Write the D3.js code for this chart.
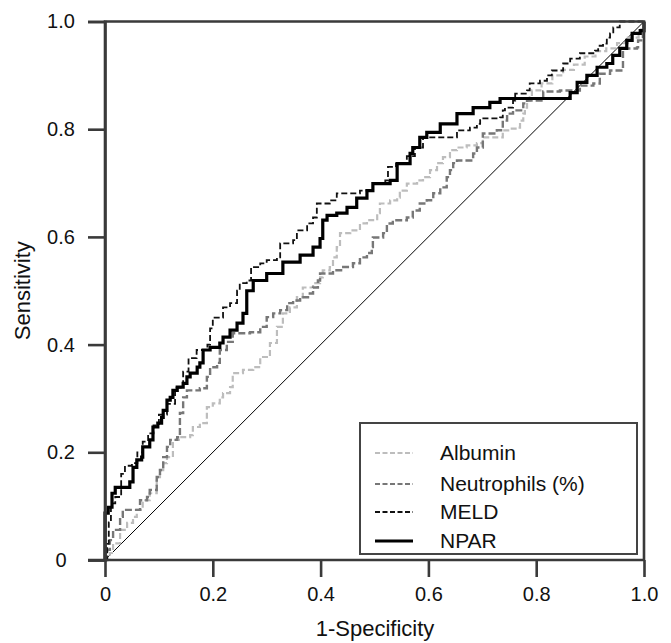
<!DOCTYPE html>
<html><head><meta charset="utf-8">
<script src="https://cdn.jsdelivr.net/npm/d3@7"></script>
<style>body{margin:0;background:#fff}svg{display:block}text{font-family:"Liberation Sans",Arial,sans-serif;fill:#111}</style>
</head><body>
<svg id="c" width="671" height="643"></svg>
<script>
const xTicks = [0, 0.2, 0.4, 0.6, 0.8, 1.0];
const yTicks = [0, 0.2, 0.4, 0.6, 0.8, 1.0];
const tickLabels = ["0", "0.2", "0.4", "0.6", "0.8", "1.0"];
const seriesNames = ["Albumin", "Neutrophils (%)", "MELD", "NPAR"];

const albumin = [[0,0],[0.009,0.013],[0.015,0.031],[0.028,0.056],[0.041,0.069],[0.052,0.08],[0.059,0.093],[0.07,0.111],[0.083,0.124],[0.096,0.154],[0.102,0.167],[0.108,0.18],[0.115,0.191],[0.126,0.223],[0.139,0.228],[0.158,0.232],[0.163,0.247],[0.176,0.254],[0.189,0.284],[0.2,0.291],[0.213,0.302],[0.219,0.31],[0.232,0.321],[0.237,0.347],[0.256,0.353],[0.275,0.358],[0.288,0.377],[0.306,0.403],[0.319,0.433],[0.33,0.458],[0.343,0.469],[0.356,0.488],[0.367,0.506],[0.386,0.514],[0.399,0.525],[0.404,0.538],[0.417,0.544],[0.423,0.562],[0.43,0.581],[0.436,0.607],[0.455,0.612],[0.473,0.625],[0.486,0.631],[0.505,0.644],[0.51,0.662],[0.529,0.668],[0.542,0.673],[0.547,0.686],[0.56,0.699],[0.579,0.705],[0.59,0.711],[0.603,0.724],[0.616,0.737],[0.627,0.748],[0.64,0.761],[0.653,0.766],[0.671,0.77],[0.69,0.774],[0.701,0.785],[0.738,0.798],[0.751,0.801],[0.764,0.803],[0.77,0.816],[0.776,0.829],[0.779,0.84],[0.783,0.853],[0.788,0.859],[0.792,0.872],[0.81,0.885],[0.83,0.9],[0.85,0.91],[0.87,0.92],[0.89,0.935],[0.91,0.945],[0.93,0.95],[0.95,0.96],[0.97,0.97],[0.99,0.975],[0.995,0.99],[1,1]];

const neutrophils = [[0,0],[0.004,0.019],[0.009,0.037],[0.015,0.056],[0.028,0.08],[0.033,0.093],[0.052,0.093],[0.065,0.111],[0.078,0.117],[0.083,0.13],[0.096,0.154],[0.102,0.167],[0.108,0.191],[0.115,0.21],[0.121,0.223],[0.134,0.228],[0.139,0.247],[0.139,0.273],[0.145,0.302],[0.152,0.315],[0.176,0.319],[0.189,0.34],[0.195,0.358],[0.208,0.366],[0.213,0.39],[0.226,0.405],[0.237,0.421],[0.269,0.423],[0.288,0.433],[0.3,0.451],[0.312,0.458],[0.325,0.464],[0.338,0.477],[0.349,0.482],[0.362,0.488],[0.38,0.495],[0.386,0.506],[0.395,0.519],[0.399,0.532],[0.423,0.538],[0.442,0.544],[0.46,0.551],[0.473,0.562],[0.486,0.57],[0.495,0.581],[0.497,0.599],[0.516,0.607],[0.523,0.625],[0.534,0.631],[0.56,0.636],[0.571,0.649],[0.584,0.662],[0.597,0.668],[0.609,0.681],[0.622,0.692],[0.634,0.711],[0.64,0.724],[0.646,0.737],[0.653,0.742],[0.683,0.755],[0.69,0.766],[0.701,0.779],[0.701,0.792],[0.727,0.798],[0.738,0.816],[0.746,0.829],[0.757,0.835],[0.77,0.835],[0.776,0.848],[0.783,0.853],[0.813,0.87],[0.844,0.872],[0.881,0.881],[0.906,0.885],[0.918,0.903],[0.937,0.909],[0.961,0.95],[0.987,0.952],[0.989,0.965],[0.998,0.98],[1,1]];

const meld = [[0,0],[0.004,0.03],[0.007,0.07],[0.011,0.105],[0.019,0.117],[0.028,0.117],[0.03,0.16],[0.037,0.175],[0.05,0.18],[0.06,0.2],[0.07,0.22],[0.08,0.235],[0.09,0.25],[0.1,0.27],[0.115,0.29],[0.13,0.32],[0.145,0.35],[0.155,0.375],[0.17,0.39],[0.19,0.4],[0.195,0.43],[0.2,0.45],[0.219,0.469],[0.232,0.477],[0.245,0.5],[0.25,0.514],[0.263,0.519],[0.271,0.544],[0.288,0.551],[0.3,0.557],[0.319,0.562],[0.325,0.588],[0.349,0.594],[0.356,0.612],[0.375,0.625],[0.386,0.636],[0.393,0.662],[0.417,0.668],[0.43,0.681],[0.473,0.686],[0.497,0.699],[0.52,0.705],[0.525,0.73],[0.54,0.736],[0.56,0.75],[0.575,0.766],[0.59,0.785],[0.645,0.785],[0.653,0.798],[0.677,0.803],[0.69,0.81],[0.696,0.82],[0.733,0.822],[0.738,0.835],[0.742,0.84],[0.757,0.853],[0.761,0.866],[0.783,0.872],[0.788,0.885],[0.807,0.89],[0.82,0.9],[0.829,0.909],[0.85,0.922],[0.863,0.931],[0.881,0.941],[0.909,0.946],[0.915,0.955],[0.924,0.959],[0.931,0.97],[0.937,0.978],[0.943,0.989],[0.955,1],[1,1]];

const npar = [[0,0],[0,0.087],[0.006,0.098],[0.013,0.124],[0.019,0.135],[0.028,0.135],[0.046,0.145],[0.052,0.172],[0.059,0.186],[0.068,0.191],[0.07,0.21],[0.083,0.223],[0.089,0.247],[0.098,0.254],[0.105,0.265],[0.108,0.278],[0.115,0.297],[0.121,0.302],[0.126,0.315],[0.134,0.321],[0.145,0.328],[0.152,0.34],[0.158,0.347],[0.171,0.358],[0.176,0.366],[0.182,0.39],[0.195,0.395],[0.213,0.403],[0.219,0.414],[0.232,0.427],[0.245,0.44],[0.256,0.458],[0.263,0.5],[0.275,0.519],[0.3,0.532],[0.33,0.553],[0.362,0.566],[0.386,0.581],[0.399,0.597],[0.404,0.631],[0.412,0.64],[0.43,0.644],[0.449,0.655],[0.467,0.672],[0.486,0.686],[0.497,0.699],[0.529,0.705],[0.542,0.736],[0.566,0.755],[0.571,0.766],[0.584,0.785],[0.597,0.794],[0.622,0.81],[0.653,0.829],[0.683,0.84],[0.714,0.85],[0.733,0.857],[0.788,0.857],[0.863,0.868],[0.876,0.887],[0.894,0.9],[0.913,0.915],[0.931,0.922],[0.942,0.937],[0.955,0.95],[0.968,0.965],[0.978,0.978],[0.993,0.983],[1,1]];

const seriesData = [albumin, neutrophils, meld, npar];
const styles = [
  {color:"#bdbdbd", width:2.2, dash:"6,3"},
  {color:"#777777", width:2.4, dash:"7,3"},
  {color:"#111111", width:1.8, dash:"6,3"},
  {color:"#000000", width:3.2, dash:null}
];

const svg = d3.select("#c");
const L = 105, R = 644, T = 21.5, B = 560;
const x = d3.scaleLinear().domain([0,1]).range([L,R]);
const y = d3.scaleLinear().domain([0,1]).range([B,T]);

// diagonal reference
svg.append("line").attr("x1",x(0)).attr("y1",y(0)).attr("x2",x(1)).attr("y2",y(1))
  .attr("stroke","#000").attr("stroke-width",1);

const line = d3.line().x(d=>x(d[0])).y(d=>y(d[1])).curve(d3.curveStepAfter);
seriesData.forEach((s,i)=>{
  svg.append("path").datum(s).attr("d",line).attr("fill","none")
    .attr("stroke",styles[i].color).attr("stroke-width",styles[i].width)
    .attr("stroke-dasharray",styles[i].dash);
});

// frame
const axisCol = "#3a3a3a";
svg.append("path").attr("d",`M${L},${B}V${T}H${R}V${B}`).attr("fill","none")
  .attr("stroke",axisCol).attr("stroke-width",2.6);

// axes
const fmt = (d,i)=>tickLabels[i];
const yAxis = d3.axisLeft(y).tickValues(yTicks).tickFormat(fmt).tickSize(17).tickPadding(0);
const xAxis = d3.axisBottom(x).tickValues(xTicks).tickFormat(fmt).tickSize(17).tickPadding(10);
const gy = svg.append("g").attr("transform",`translate(${L},0)`).call(yAxis);
const gx = svg.append("g").attr("transform",`translate(0,${B})`).call(xAxis);
[gx,gy].forEach(g=>{
  g.select(".domain").attr("stroke",axisCol).attr("stroke-width",2.6);
  g.selectAll(".tick line").attr("stroke",axisCol).attr("stroke-width",2.6);
  g.selectAll(".tick text").attr("font-size",20).attr("fill","#111")
    .style("font-family","'Liberation Sans',Arial,sans-serif");
});
gy.selectAll(".tick text").attr("text-anchor","middle").attr("x",61-L);
gx.select(".domain").attr("d",`M${L-17},0H${R}`);

// axis titles
svg.append("text").attr("x",375).attr("y",636).attr("text-anchor","middle")
  .attr("font-size",22).text("1-Specificity");
svg.append("text").attr("transform",`translate(30,${(T+B)/2}) rotate(-90)`)
  .attr("text-anchor","middle").attr("font-size",22).text("Sensitivity");

// legend
svg.append("rect").attr("x",360).attr("y",423).attr("width",277).attr("height",131)
  .attr("fill","#fff").attr("stroke","#444").attr("stroke-width",2);
const rowsY = [453,484,512,541];
const legendDash = ["5,2.5","5,2.5","5,2.5",null];
seriesNames.forEach((n,i)=>{
  svg.append("line").attr("x1",375).attr("x2",413).attr("y1",rowsY[i]).attr("y2",rowsY[i])
    .attr("stroke",styles[i].color).attr("stroke-width",i===3?3.2:2)
    .attr("stroke-dasharray",legendDash[i]);
  svg.append("text").attr("x",440).attr("y",rowsY[i]).attr("dy","0.35em")
    .attr("font-size",21).text(n);
});
</script>
</body></html>
